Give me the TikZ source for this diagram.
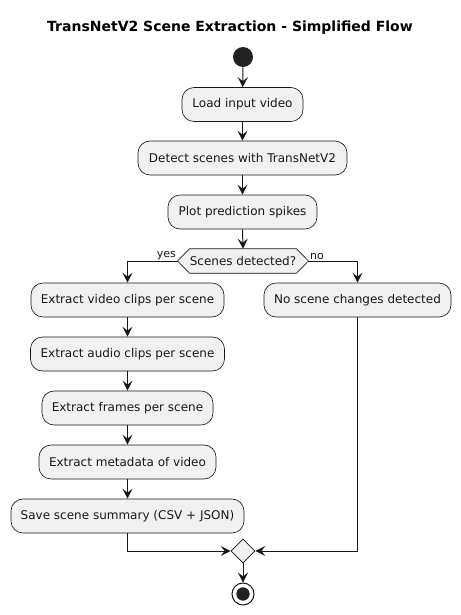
\documentclass[tikz,border=0pt]{standalone}
\usepackage{fontspec}
\setmainfont{DejaVu Sans}
\usetikzlibrary{arrows.meta,shapes.geometric,backgrounds}
\definecolor{boxfill}{HTML}{F1F1F1}
\definecolor{ink}{HTML}{181818}
\definecolor{dot}{HTML}{222222}
\begin{document}
\begin{tikzpicture}[x=0.75pt,y=-0.75pt,
  act/.style={draw=ink,line width=0.5pt,fill=boxfill,rounded corners=9pt,
    minimum height=25.5pt,inner sep=0pt,font=\fontsize{9pt}{11pt}\selectfont,text=ink},
  flow/.style={draw=ink,line width=0.75pt,-{Stealth[length=7.5pt,width=7.5pt,inset=3pt]}},
  line/.style={draw=ink,line width=0.75pt},
  lbl/.style={font=\fontsize{8.25pt}{10pt}\selectfont,text=ink,inner sep=1pt}]
\useasboundingbox (0,0) rectangle (461,615);
\node[font=\bfseries\fontsize{10.5pt}{12pt}\selectfont] (title) at (230,28) {TransNetV2 Scene Extraction - Simplified Flow};
\node[circle,fill=dot,minimum size=15pt,inner sep=0pt] (start) at (243,57) {};
\node[act,minimum width=90.75pt] (load) at (242.5,104.5) {Load input video};
\node[act,minimum width=156.75pt] (detect) at (242.5,158) {Detect scenes with TransNetV2};
\node[act,minimum width=111.75pt] (plot) at (242.5,212) {Plot prediction spikes};
\node[minimum width=72pt,minimum height=18pt,inner sep=0pt,font=\fontsize{9pt}{11pt}\selectfont,text=ink] (dec) at (243,261) {Scenes detected?};
\coordinate (decL) at ([xshift=-9pt]dec.west);
\coordinate (decR) at ([xshift=9pt]dec.east);
\begin{scope}[on background layer]
\draw[draw=ink,line width=0.5pt,fill=boxfill] (dec.north west) -- (dec.north east) -- (decR) -- (dec.south east) -- (dec.south west) -- (decL) -- cycle;
\end{scope}
\node[act,minimum width=144.75pt] (video) at (127.5,300) {Extract video clips per scene};
\node[act,minimum width=145.5pt] (audio) at (127.5,354) {Extract audio clips per scene};
\node[act,minimum width=128.25pt] (frames) at (127.5,408) {Extract frames per scene};
\node[act,minimum width=132.75pt] (meta) at (127.5,462) {Extract metadata of video};
\node[act,minimum width=174.75pt] (save) at (127.5,516) {Save scene summary (CSV + JSON)};
\node[act,minimum width=140.25pt] (noc) at (357.5,300) {No scene changes detected};
\node[diamond,draw=ink,line width=0.5pt,fill=boxfill,minimum width=18pt,minimum height=18pt,inner sep=0pt] (merge) at (243,551) {};
\node[circle,draw=ink,line width=0.75pt,fill=white,minimum size=16.5pt,inner sep=0pt] (stop) at (243,594) {};
\node[circle,fill=dot,minimum size=10pt,inner sep=0pt] (stopdot) at (stop.center) {};
\node[lbl,anchor=south east] (yes) at (decL) {yes};
\node[lbl,anchor=south west] (no) at (decR) {no};
\draw[flow] (start) -- (load);
\draw[flow] (load) -- (detect);
\draw[flow] (detect) -- (plot);
\draw[flow] (plot.south) -- (dec.north);
\draw[flow] (decL) -| (video.north);
\draw[flow] (decR) -| (noc.north);
\draw[flow] (video) -- (audio);
\draw[flow] (audio) -- (frames);
\draw[flow] (frames) -- (meta);
\draw[flow] (meta) -- (save);
\draw[flow] (save.south) |- (merge.west);
\draw[flow] (noc.south) |- (merge.east);
\draw[flow] (merge.south) -- (stop.north);
\end{tikzpicture}
\end{document}
